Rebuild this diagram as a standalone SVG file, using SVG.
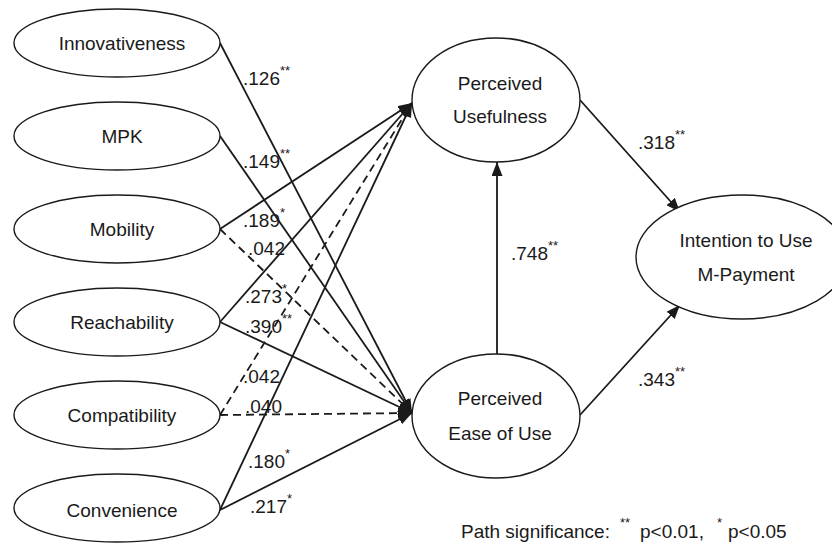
<svg xmlns="http://www.w3.org/2000/svg" width="832" height="545" viewBox="0 0 832 545">
  <style>
    text { font-family: "Liberation Sans", Arial, sans-serif; font-size: 19px; fill: #1a1a1a; }
    .node ellipse { fill: #ffffff; stroke: #1a1a1a; stroke-width: 1.4; }
    .node text { text-anchor: middle; }
    .edge { fill: none; stroke: #1a1a1a; stroke-width: 1.8; marker-end: url(#head); }
    .dash { stroke-dasharray: 8 5; }
    .sup { font-size: 13px; }
  </style>
  <defs>
    <marker id="head" markerUnits="userSpaceOnUse" markerWidth="14" markerHeight="11" refX="14" refY="5.5" orient="auto">
      <path d="M0,0 L14,5.5 L0,11 z" fill="#1a1a1a" stroke="none"/>
    </marker>
  </defs>

  <rect width="832" height="545" fill="#ffffff"/>

  <!-- path connectors -->
  <g id="connectors">
    <path class="edge" d="M220,43 L412,413"/>
    <path class="edge" d="M220,136 L412,413"/>
    <path class="edge" d="M220,229 L412,103"/>
    <path class="edge dash" d="M220,229 L412,413"/>
    <path class="edge" d="M220,322 L412,103"/>
    <path class="edge" d="M220,322 L412,413"/>
    <path class="edge dash" d="M220,415 L412,103"/>
    <path class="edge dash" d="M220,415 L412,413"/>
    <path class="edge" d="M220,510 L412,103"/>
    <path class="edge" d="M220,510 L412,413"/>
    <path class="edge" d="M497,354 L497,162"/>
    <path class="edge" d="M580,100 L680,212"/>
    <path class="edge" d="M580,415 L680,305"/>
  </g>

  <!-- antecedent constructs -->
  <g id="innovativeness" class="node">
    <ellipse cx="117" cy="43" rx="103" ry="34"/>
    <text x="122" y="50">Innovativeness</text>
  </g>
  <g id="mpk" class="node">
    <ellipse cx="117" cy="136" rx="103" ry="34"/>
    <text x="122" y="143">MPK</text>
  </g>
  <g id="mobility" class="node">
    <ellipse cx="117" cy="229" rx="103" ry="34"/>
    <text x="122" y="236">Mobility</text>
  </g>
  <g id="reachability" class="node">
    <ellipse cx="117" cy="322" rx="103" ry="34"/>
    <text x="122" y="329">Reachability</text>
  </g>
  <g id="compatibility" class="node">
    <ellipse cx="117" cy="415" rx="103" ry="34"/>
    <text x="122" y="422">Compatibility</text>
  </g>
  <g id="convenience" class="node">
    <ellipse cx="117" cy="508" rx="103" ry="34"/>
    <text x="122" y="517">Convenience</text>
  </g>

  <!-- TAM constructs -->
  <g id="perceived-usefulness" class="node">
    <ellipse cx="496" cy="100" rx="84" ry="62"/>
    <text x="500" y="90">Perceived</text>
    <text x="500" y="123">Usefulness</text>
  </g>
  <g id="perceived-ease-of-use" class="node">
    <ellipse cx="496" cy="416" rx="84" ry="62"/>
    <text x="500" y="405">Perceived</text>
    <text x="500" y="440">Ease of Use</text>
  </g>
  <g id="intention" class="node">
    <ellipse cx="742" cy="257" rx="106" ry="62"/>
    <text x="746" y="247">Intention to Use</text>
    <text x="746" y="281">M-Payment</text>
  </g>

  <!-- path coefficients -->
  <g id="coefficients">
    <text x="243" y="85">.126<tspan class="sup" dy="-10.5">**</tspan></text>
    <text x="243" y="168">.149<tspan class="sup" dy="-10.5">**</tspan></text>
    <text x="243" y="227">.189<tspan class="sup" dy="-10.5">*</tspan></text>
    <text x="248" y="255">.042</text>
    <text x="245" y="303">.273<tspan class="sup" dy="-10.5">*</tspan></text>
    <text x="245" y="333">.390<tspan class="sup" dy="-10.5">**</tspan></text>
    <text x="243" y="383">.042</text>
    <text x="245" y="413">.040</text>
    <text x="248" y="468">.180<tspan class="sup" dy="-10.5">*</tspan></text>
    <text x="250" y="513">.217<tspan class="sup" dy="-10.5">*</tspan></text>
    <text x="638" y="149">.318<tspan class="sup" dy="-10.5">**</tspan></text>
    <text x="511" y="260">.748<tspan class="sup" dy="-10.5">**</tspan></text>
    <text x="638" y="386">.343<tspan class="sup" dy="-10.5">**</tspan></text>
  </g>

  <!-- significance legend -->
  <g id="legend">
    <text x="461" y="538">Path significance:</text>
    <text class="sup" x="620" y="527">**</text>
    <text x="640" y="538">p&lt;0.01,</text>
    <text class="sup" x="717" y="527">*</text>
    <text x="728" y="538">p&lt;0.05</text>
  </g>
</svg>
